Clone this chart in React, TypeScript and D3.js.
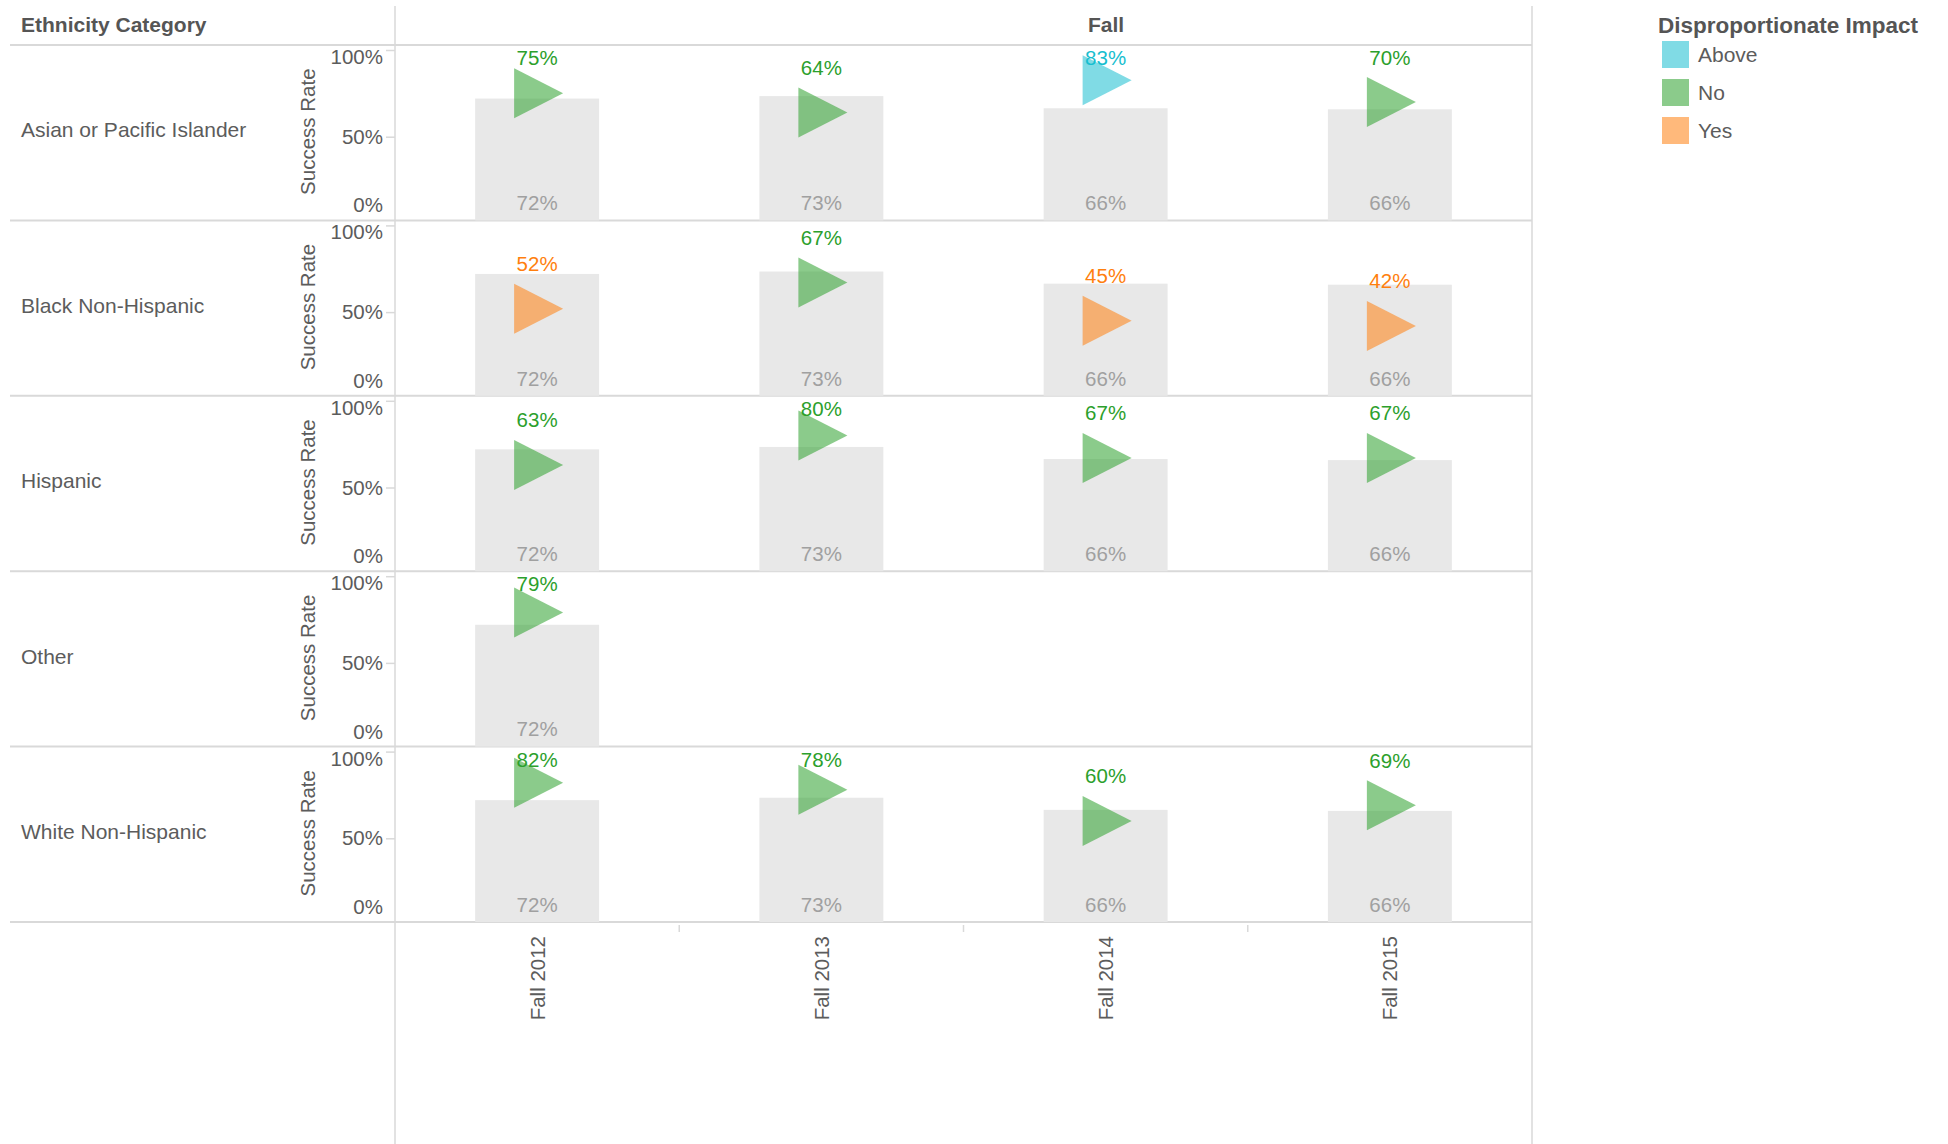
import React, { useEffect, useRef } from 'react';
import * as d3 from 'd3';

// chart data
const categories = ['Asian or Pacific Islander', 'Black Non-Hispanic', 'Hispanic', 'Other', 'White Non-Hispanic'];
const terms = ['Fall 2012', 'Fall 2013', 'Fall 2014', 'Fall 2015'];
const overallRates = [0.72, 0.734, 0.664, 0.658];

const asianRates = [0.75, 0.64, 0.826, 0.70];
const blackRates = [0.52, 0.67, 0.45, 0.42];
const hispanicRates = [0.63, 0.80, 0.67, 0.67];
const otherRates = [0.79, null, null, null];
const whiteRates = [0.82, 0.78, 0.60, 0.69];

const asianImpact = ['No', 'No', 'Above', 'No'];
const blackImpact = ['Yes', 'No', 'Yes', 'Yes'];
const hispanicImpact = ['No', 'No', 'No', 'No'];
const otherImpact = ['No', null, null, null];
const whiteImpact = ['No', 'No', 'No', 'No'];

const impactLevels = ['Above', 'No', 'Yes'];

const App = () => {
    const ref = useRef<SVGSVGElement>(null);

    useEffect(() => {
        const svg = d3.select(ref.current);
        svg.selectAll('*').remove();

        const W = 1948, H = 1144;
        const left = 395, right = 1532, top = 45, bottom = 922;
        const font = '"Liberation Sans", Arial, sans-serif';
        const textColor = '#555';
        const labelColor = '#5c5c5c';
        const lineColor = '#d9d9d9';

        const rates = [asianRates, blackRates, hispanicRates, otherRates, whiteRates];
        const impacts = [asianImpact, blackImpact, hispanicImpact, otherImpact, whiteImpact];

        const color = d3.scaleOrdinal<string, string>()
            .domain(impactLevels)
            .range(['#17becf', '#2ca02c', '#ff7f0e']);

        const x = d3.scaleBand()
            .domain(terms)
            .range([left, right])
            .paddingInner(0.564)
            .paddingOuter(0.282);
        const step = x.step();

        const row = d3.scaleBand()
            .domain(categories)
            .range([top, bottom]);
        const rowH = row.bandwidth();

        const y = d3.scaleLinear().domain([0, 1]).range([rowH + 3, 5]);

        svg.attr('width', W).attr('height', H).style('font-family', font);

        // headers
        svg.append('text')
            .attr('x', 21).attr('y', 25).attr('dy', '0.35em')
            .attr('font-size', 21).attr('font-weight', 'bold').attr('fill', textColor)
            .text('Ethnicity Category');
        svg.append('text')
            .attr('x', 1106).attr('y', 25).attr('dy', '0.35em')
            .attr('text-anchor', 'middle')
            .attr('font-size', 21).attr('font-weight', 'bold').attr('fill', textColor)
            .text('Fall');

        // frame lines
        svg.append('line')
            .attr('x1', 10).attr('x2', right).attr('y1', top).attr('y2', top)
            .attr('stroke', lineColor).attr('stroke-width', 2);
        svg.selectAll('.rowline')
            .data(categories)
            .enter()
            .append('line')
            .attr('x1', 10).attr('x2', right)
            .attr('y1', d => row(d)! + rowH).attr('y2', d => row(d)! + rowH)
            .attr('stroke', lineColor).attr('stroke-width', 2);
        [left, right].forEach(lx => {
            svg.append('line')
                .attr('x1', lx).attr('x2', lx).attr('y1', 6).attr('y2', H)
                .attr('stroke', lineColor).attr('stroke-width', 1.5);
        });
        // column boundary ticks under the last row
        svg.selectAll('.coltick')
            .data(terms.slice(1))
            .enter()
            .append('line')
            .attr('x1', d => x(d)! - step * 0.282)
            .attr('x2', d => x(d)! - step * 0.282)
            .attr('y1', bottom + 3).attr('y2', bottom + 10)
            .attr('stroke', lineColor).attr('stroke-width', 1.5);

        // rows
        categories.forEach((cat, ci) => {
            const g = svg.append('g').attr('transform', `translate(0,${row(cat)})`);

            g.append('text')
                .attr('x', 21).attr('y', 85).attr('dy', '0.35em')
                .attr('font-size', 21).attr('fill', labelColor)
                .text(cat);

            g.append('text')
                .attr('transform', `translate(308,${rowH / 2 - 1}) rotate(-90)`)
                .attr('text-anchor', 'middle').attr('dy', '0.35em')
                .attr('font-size', 20.5).attr('fill', labelColor)
                .text('Success Rate');

            const axis = g.append('g')
                .attr('transform', `translate(${left},0)`)
                .call(d3.axisLeft(y).tickValues([0, 0.5, 1]).tickFormat(d3.format('.0%')).tickSize(9).tickPadding(3));
            axis.select('.domain').remove();
            axis.selectAll('.tick line')
                .attr('stroke', lineColor).attr('stroke-width', 1.5)
                .attr('display', (d: any) => (d === 0 ? 'none' : null));
            axis.selectAll('.tick text')
                .attr('font-size', 20.5).attr('font-family', font).attr('fill', labelColor)
                .attr('y', (d: any) => (d === 1 ? 7 : d === 0 ? -18 : 0));

            const values = rates[ci];
            const imp = impacts[ci];
            const present = terms.map((t, i) => ({ t, i })).filter(d => values[d.i] !== null);

            // overall bars
            g.selectAll('.bar')
                .data(present)
                .enter()
                .append('rect')
                .attr('x', d => x(d.t)!)
                .attr('y', d => y(overallRates[d.i]))
                .attr('width', x.bandwidth())
                .attr('height', d => rowH - y(overallRates[d.i]))
                .attr('fill', '#e8e8e8');

            g.selectAll('.barlabel')
                .data(present)
                .enter()
                .append('text')
                .attr('x', d => x(d.t)! + x.bandwidth() / 2)
                .attr('y', 158).attr('dy', '0.35em')
                .attr('text-anchor', 'middle')
                .attr('font-size', 20.5).attr('fill', '#a0a0a0')
                .text(d => d3.format('.0%')(overallRates[d.i]));

            // group triangles
            g.selectAll('.tri')
                .data(present)
                .enter()
                .append('path')
                .attr('d', d => {
                    const cx = x(d.t)! + x.bandwidth() / 2;
                    const cy = y(values[d.i] as number);
                    return `M${cx - 23},${cy - 25}L${cx + 26},${cy}L${cx - 23},${cy + 25}Z`;
                })
                .attr('fill', d => color(imp[d.i] as string))
                .attr('fill-opacity', 0.55);

            g.selectAll('.trilabel')
                .data(present)
                .enter()
                .append('text')
                .attr('x', d => x(d.t)! + x.bandwidth() / 2)
                .attr('y', d => Math.max(y(values[d.i] as number) - 45, 13)).attr('dy', '0.35em')
                .attr('text-anchor', 'middle')
                .attr('font-size', 20.5)
                .attr('fill', d => color(imp[d.i] as string))
                .text(d => d3.format('.0%')(values[d.i] as number));
        });

        // x axis labels
        svg.selectAll('.xlabel')
            .data(terms)
            .enter()
            .append('text')
            .attr('transform', d => `translate(${x(d)! + x.bandwidth() / 2 + 7.5},${bottom + 14}) rotate(-90)`)
            .attr('text-anchor', 'end')
            .attr('font-size', 20.5).attr('fill', labelColor)
            .text(d => d);

        // legend
        const lg = svg.append('g');
        lg.append('text')
            .attr('x', 1658).attr('y', 25).attr('dy', '0.35em')
            .attr('font-size', 22.5).attr('font-weight', 'bold').attr('fill', textColor)
            .text('Disproportionate Impact');
        impactLevels.forEach((lvl, i) => {
            lg.append('rect')
                .attr('x', 1662).attr('y', 41 + i * 38)
                .attr('width', 27).attr('height', 27)
                .attr('fill', color(lvl)).attr('fill-opacity', 0.55);
            lg.append('text')
                .attr('x', 1698).attr('y', 55 + i * 38).attr('dy', '0.35em')
                .attr('font-size', 21).attr('fill', labelColor)
                .text(lvl);
        });
    }, []);

    return (
        <div style={{ position: 'absolute', left: 0, top: 0 }}>
            <svg ref={ref}></svg>
        </div>
    );
};

export default App;
